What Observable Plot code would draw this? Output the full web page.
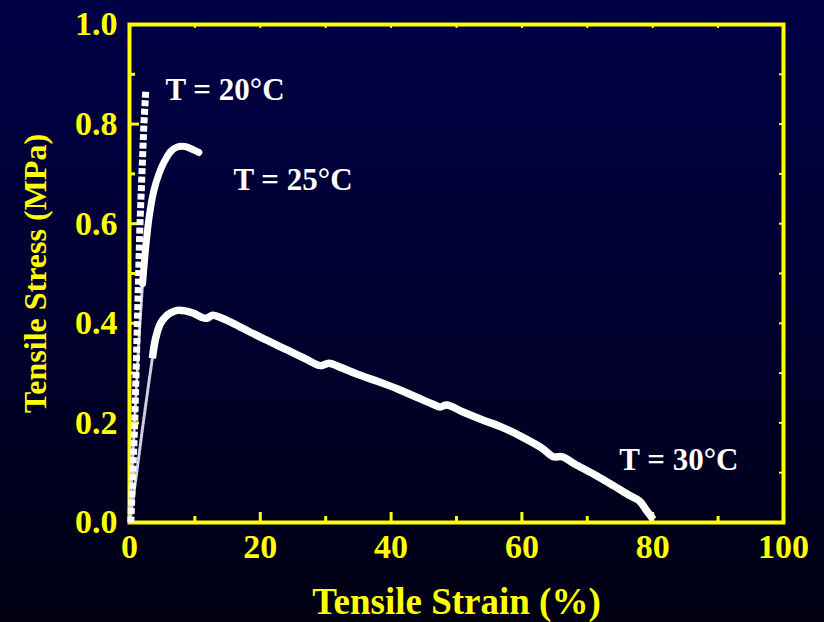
<!DOCTYPE html>
<html>
<head>
<meta charset="utf-8">
<script src="https://cdn.jsdelivr.net/npm/d3@7"></script>
<script src="https://cdn.jsdelivr.net/npm/@observablehq/plot@0.6"></script>
<style>
  html, body { margin: 0; padding: 0; }
  body { width: 824px; height: 622px; overflow: hidden;
         background: linear-gradient(to bottom, #000046 0%, #00002a 60%, #000012 100%); }
</style>
</head>
<body>
<div id="chart"></div>
<script>
// ---- data ----
const strain20 = [0.2, 0.5, 0.8, 1.0, 1.2, 1.4, 1.6, 1.9, 2.2, 2.5];
const stress20 = [0.0, 0.1, 0.2, 0.3, 0.4, 0.5, 0.6, 0.7, 0.8, 0.87];

const strain25 = [0.0, 0.5, 1.0, 1.5, 2.0, 2.5, 3.0, 3.7, 4.5, 5.3, 6.3, 7.3, 8.5, 9.5, 10.6];
const stress25 = [0.0, 0.13, 0.26, 0.38, 0.48, 0.555, 0.613, 0.665, 0.70, 0.724, 0.745, 0.754, 0.755, 0.75, 0.743];

const strain30 = [0.15, 1.0, 2.0, 3.0, 3.5, 4.0, 4.75, 5.5, 6.3, 7.3, 8.5, 9.8, 11.0, 11.8, 12.7,
  13.8, 16, 18.5, 21, 24, 27, 29.2, 30.5, 32, 35.4, 38, 41, 44, 46.5, 47.5, 48.5,
  51, 54, 57, 60, 63, 64.8, 66.2, 68, 71, 74, 76.5, 78, 79, 80.1];
const stress30 = [0.01, 0.09, 0.19, 0.285, 0.33, 0.37, 0.40, 0.413, 0.421, 0.426, 0.425, 0.42, 0.412, 0.41, 0.416,
  0.412, 0.399, 0.382, 0.366, 0.347, 0.328, 0.315, 0.32, 0.313, 0.295, 0.283, 0.268, 0.251, 0.237, 0.232, 0.236,
  0.222, 0.206, 0.191, 0.172, 0.150, 0.132, 0.132, 0.118, 0.097, 0.074, 0.054, 0.043, 0.025, 0.006];

const labels = ["T = 20°C", "T = 25°C", "T = 30°C"];
const labelX = [5.5, 15.9, 74.9];
const labelY = [0.869, 0.687, 0.1245];

const xMajor = [0, 20, 40, 60, 80, 100];
const xMinor = [10, 30, 50, 70, 90];
const yMajor = [0, 0.2, 0.4, 0.6, 0.8, 1.0];
const yMinor = [0.1, 0.3, 0.5, 0.7, 0.9];

const s20 = strain20.map((x, i) => ({x, y: stress20[i]}));
const s25 = strain25.map((x, i) => ({x, y: stress25[i]}));
const s30 = strain30.map((x, i) => ({x, y: stress30[i]}));
const ann = labels.map((t, i) => ({t, x: labelX[i], y: labelY[i]}));

const W = 824, H = 622, mL = 129, mR = 41, mT = 24, mB = 100;
const iw = W - mL - mR, ih = H - mT - mB;
const Y = "#ffff00";

const chart = Plot.plot({
  width: W, height: H,
  marginLeft: mL, marginRight: mR, marginTop: mT, marginBottom: mB,
  x: {domain: [0, 100]},
  y: {domain: [0, 1]},
  style: {background: "transparent", color: Y, fontFamily: "'Liberation Serif', 'Times New Roman', serif",
          fontWeight: "bold", fontSize: "34px", overflow: "visible"},
  marks: [
    // frame + ticks
    Plot.frame({stroke: Y, strokeWidth: 4}),
    Plot.tickX(xMajor.slice(1, -1), {x: d => d, stroke: Y, strokeWidth: 3, insetTop: ih - 10}),
    Plot.tickX(xMinor, {x: d => d, stroke: Y, strokeWidth: 3, insetTop: ih - 6}),
    Plot.tickX(xMajor.concat(xMinor), {x: d => d, stroke: Y, strokeWidth: 2, insetBottom: ih - 4}),
    Plot.tickY(yMajor.slice(1, -1), {y: d => d, stroke: Y, strokeWidth: 3, insetRight: iw - 10}),
    Plot.tickY(yMinor, {y: d => d, stroke: Y, strokeWidth: 3, insetRight: iw - 6}),
    Plot.tickY(yMajor.concat(yMinor), {y: d => d, stroke: Y, strokeWidth: 2, insetLeft: iw - 4}),
    // axes (labels only)
    Plot.axisX({ticks: xMajor, tickSize: 0, tickPadding: 11, label: null, fill: Y}),
    Plot.axisY({ticks: yMajor, tickSize: 0, tickPadding: 12, label: null, fill: Y, tickFormat: d3.format(".1f")}),
    Plot.text(["Tensile Strain (%)"], {frameAnchor: "bottom", dy: 80, textAnchor: "middle", lineAnchor: "middle", fill: Y, fontSize: 37, fontWeight: "bold"}),
    Plot.text(["Tensile Stress (MPa)"], {frameAnchor: "left", dx: -94, rotate: -90, textAnchor: "middle", lineAnchor: "middle", fill: Y, fontSize: 32, fontWeight: "bold"}),
    // curves
    Plot.line(s30.filter(d => d.x <= 4.0), {x: "x", y: "y", stroke: "#d0d0e0", strokeWidth: 3, strokeDasharray: "3,1.5"}),
    Plot.line(s30.filter(d => d.x >= 3.5), {x: "x", y: "y", stroke: "white", strokeWidth: 7.5, strokeLinecap: "butt", strokeLinejoin: "round", curve: "catmull-rom"}),
    Plot.line(s25.filter(d => d.x <= 2.5), {x: "x", y: "y", stroke: "#d0d0e0", strokeWidth: 3, strokeDasharray: "3,1.5"}),
    Plot.line(s25.filter(d => d.x >= 2.0), {x: "x", y: "y", stroke: "white", strokeWidth: 7, strokeLinecap: "round", strokeLinejoin: "round", curve: "catmull-rom"}),
    Plot.line(s20, {x: "x", y: "y", stroke: "white", strokeWidth: 7, strokeDasharray: "6,2.5", strokeLinecap: "butt", curve: "linear"}),
    // annotations
    Plot.text(ann, {x: "x", y: "y", text: "t", fill: "white", fontSize: 31, fontWeight: "bold", textAnchor: "start", lineAnchor: "middle"})
  ]
});
document.getElementById("chart").appendChild(chart);
</script>
</body>
</html>
